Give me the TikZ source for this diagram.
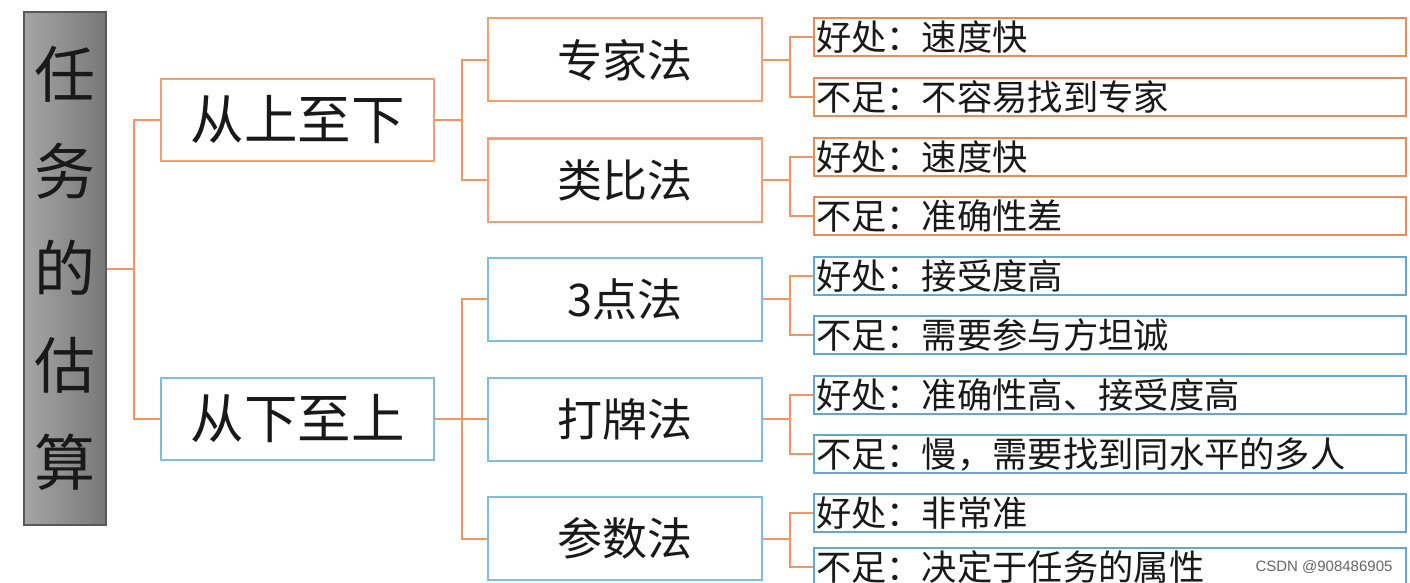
\documentclass[tikz,border=0pt]{standalone}
\usepackage{fontspec}
\setmainfont{Noto Sans CJK SC}
\newfontfamily\wmfont{Liberation Sans}
\definecolor{conn}{RGB}{240,150,100}
\definecolor{obord}{RGB}{240,160,115}
\definecolor{bbord}{RGB}{125,190,222}
\definecolor{lobord}{RGB}{232,140,90}
\definecolor{lbbord}{RGB}{100,168,208}
\definecolor{txt}{RGB}{25,25,25}
\definecolor{rootl}{RGB}{165,165,165}
\definecolor{rootr}{RGB}{120,120,120}
\tikzset{
  rootbox/.style={draw=black!65, line width=1.2pt, left color=rootl, right color=rootr,
    minimum width=82, minimum height=513, inner sep=0, align=center,
    font=\fontsize{61}{97}\selectfont, text=txt},
  lonebox/.style={line width=2pt, fill=white, minimum width=273, minimum height=82, inner sep=0,
    font=\fontsize{53.5}{56}\selectfont, text=txt},
  ltwobox/.style={line width=2pt, fill=white, minimum width=274, minimum height=83, inner sep=0,
    font=\fontsize{45}{48}\selectfont, text=txt},
  leafbox/.style={line width=2pt, fill=white, minimum width=592, minimum height=38,
    text width=588, inner xsep=1, inner ysep=0, align=left,
    font=\fontsize{35.3}{38}\selectfont, text=txt},
  link/.style={draw=conn, line width=2pt},
}
\begin{document}
\begin{tikzpicture}[x=1pt,y=-1pt]
\useasboundingbox (0,0) rectangle (1410,583);
% root
\node[rootbox] (r) at (65,268.5) {任\\务\\的\\估\\算};
% level 1
\node[lonebox, draw=obord] (a) at (297.5,120) {从上至下};
\node[lonebox, draw=bbord] (b) at (297.5,419) {从下至上};
% level 2
\node[ltwobox, draw=obord] (m1) at (625,60) {专家法};
\node[ltwobox, draw=obord] (m2) at (625,180) {类比法};
\node[ltwobox, draw=bbord] (m3) at (625,299) {3点法};
\node[ltwobox, draw=bbord] (m4) at (625,419) {打牌法};
\node[ltwobox, draw=bbord] (m5) at (625,538.5) {参数法};
% leaves
\node[leafbox, draw=lobord] (f1) at (1110,37) {好处：速度快};
\node[leafbox, draw=lobord] (f2) at (1110,97) {不足：不容易找到专家};
\node[leafbox, draw=lobord] (f3) at (1110,157) {好处：速度快};
\node[leafbox, draw=lobord] (f4) at (1110,216) {不足：准确性差};
\node[leafbox, draw=lbbord] (f5) at (1110,276) {好处：接受度高};
\node[leafbox, draw=lbbord] (f6) at (1110,335) {不足：需要参与方坦诚};
\node[leafbox, draw=lbbord] (f7) at (1110,395) {好处：准确性高、接受度高};
\node[leafbox, draw=lbbord] (f8) at (1110,454) {不足：慢，需要找到同水平的多人};
\node[leafbox, draw=lbbord] (f9) at (1110,513) {好处：非常准};
\node[leafbox, draw=lbbord] (f10) at (1110,567) {不足：决定于任务的属性};
% connectors
\draw[link] (r.east) -- ++(27,0) |- (a.west);
\draw[link] (r.east) -- ++(27,0) |- (b.west);
\foreach \c in {m1,m2} \draw[link] (a.east) -- ++(27,0) |- (\c.west);
\foreach \c in {m3,m4,m5} \draw[link] (b.east) -- ++(27,0) |- (\c.west);
\draw[link] (m1.east) -- ++(27,0) |- (f1.west);
\draw[link] (m1.east) -- ++(27,0) |- (f2.west);
\draw[link] (m2.east) -- ++(27,0) |- (f3.west);
\draw[link] (m2.east) -- ++(27,0) |- (f4.west);
\draw[link] (m3.east) -- ++(27,0) |- (f5.west);
\draw[link] (m3.east) -- ++(27,0) |- (f6.west);
\draw[link] (m4.east) -- ++(27,0) |- (f7.west);
\draw[link] (m4.east) -- ++(27,0) |- (f8.west);
\draw[link] (m5.east) -- ++(27,0) |- (f9.west);
\draw[link] (m5.east) -- ++(27,0) |- (f10.west);
% watermark
\node[font=\wmfont\fontsize{15}{18}\selectfont, text=black!60, anchor=east] (wm) at (1396,567) {CSDN @908486905};
\end{tikzpicture}
\end{document}
